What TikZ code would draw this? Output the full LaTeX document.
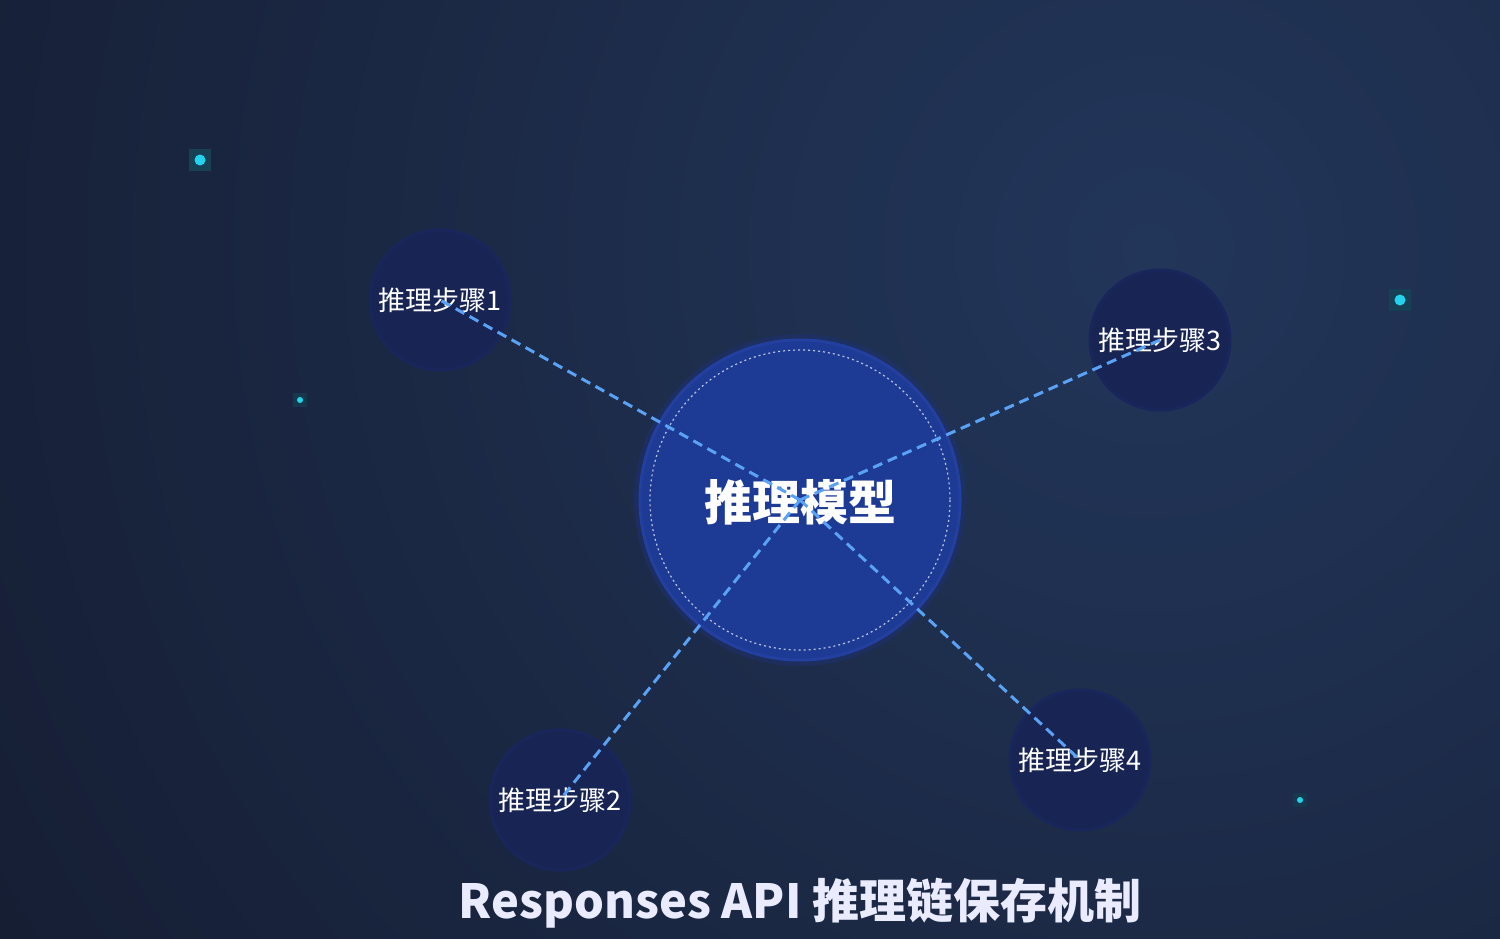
\documentclass[tikz,border=0pt]{standalone}
\usepackage{fontspec}
\setmainfont{Noto Sans CJK SC}
\definecolor{bgA}{HTML}{141B2F}
\definecolor{bgB}{HTML}{22365A}
\definecolor{core}{HTML}{1D3A94}
\definecolor{coreEdge}{HTML}{233FA0}
\definecolor{stepFill}{HTML}{172454}
\definecolor{stepEdge}{HTML}{18265C}
\definecolor{link}{HTML}{5AA2F5}
\definecolor{dot}{HTML}{22D3EE}
\tikzset{
  stepnode/.style={circle,minimum size=140pt,inner sep=0,fill=stepFill,draw=stepEdge,line width=3pt,text=white,font=\fontsize{27}{29}\selectfont},
  linkline/.style={draw=link,line width=3pt,dash pattern=on 10pt off 6pt},
  spark/.style={circle,fill=dot,inner sep=0}
}
\begin{document}
\begin{tikzpicture}[x=1pt,y=-1pt]
\useasboundingbox (0,0) rectangle (1500,938);
\begin{scope}
\clip (0,0) rectangle (1500,938);
\shade[inner color=bgB,outer color=bgA] (1150,250) circle (1500);
\end{scope}
% sparks
\fill[dot!20!bgA] (189,149) rectangle (211,171);
\node[spark,minimum size=11pt] (s1) at (200,160) {};
\fill[dot!20!bgA] (1389,289) rectangle (1411,311);
\node[spark,minimum size=11pt] (s2) at (1400,300) {};
\fill[dot!15!bgA] (293,393) rectangle (307,407);
\node[spark,minimum size=6pt] (s3) at (300,400) {};
\fill[dot!15!bgA] (1293,793) rectangle (1307,807);
\node[spark,minimum size=6pt] (s4) at (1300,800) {};
% core
\fill[coreEdge!60!bgA,opacity=0.5] (800,500) circle (166);
\node[circle,minimum size=320pt,inner sep=0,fill=core,draw=coreEdge,line width=3pt] (core) at (800,500) {};
\draw[white!70!core,line width=1.2pt,dash pattern=on 2pt off 3pt] (800,500) circle (150);
% steps
\node[stepnode] (p1) at (440,300) {推理步骤1};
\node[stepnode] (p2) at (560,800) {推理步骤2};
\node[stepnode] (p3) at (1160,340) {推理步骤3};
\node[stepnode] (p4) at (1080,760) {推理步骤4};
\node[text=white,font=\fontsize{48}{50}\selectfont\bfseries] (ct) at (800,502) {推理模型};
\foreach \n in {p1,p2,p3,p4}{\draw[linkline] (core.center) -- (\n.center);}
\node[text=white!92!blue,font=\fontsize{47}{49}\selectfont\bfseries] (title) at (800,903) {Responses API 推理链保存机制};
\end{tikzpicture}
\end{document}
